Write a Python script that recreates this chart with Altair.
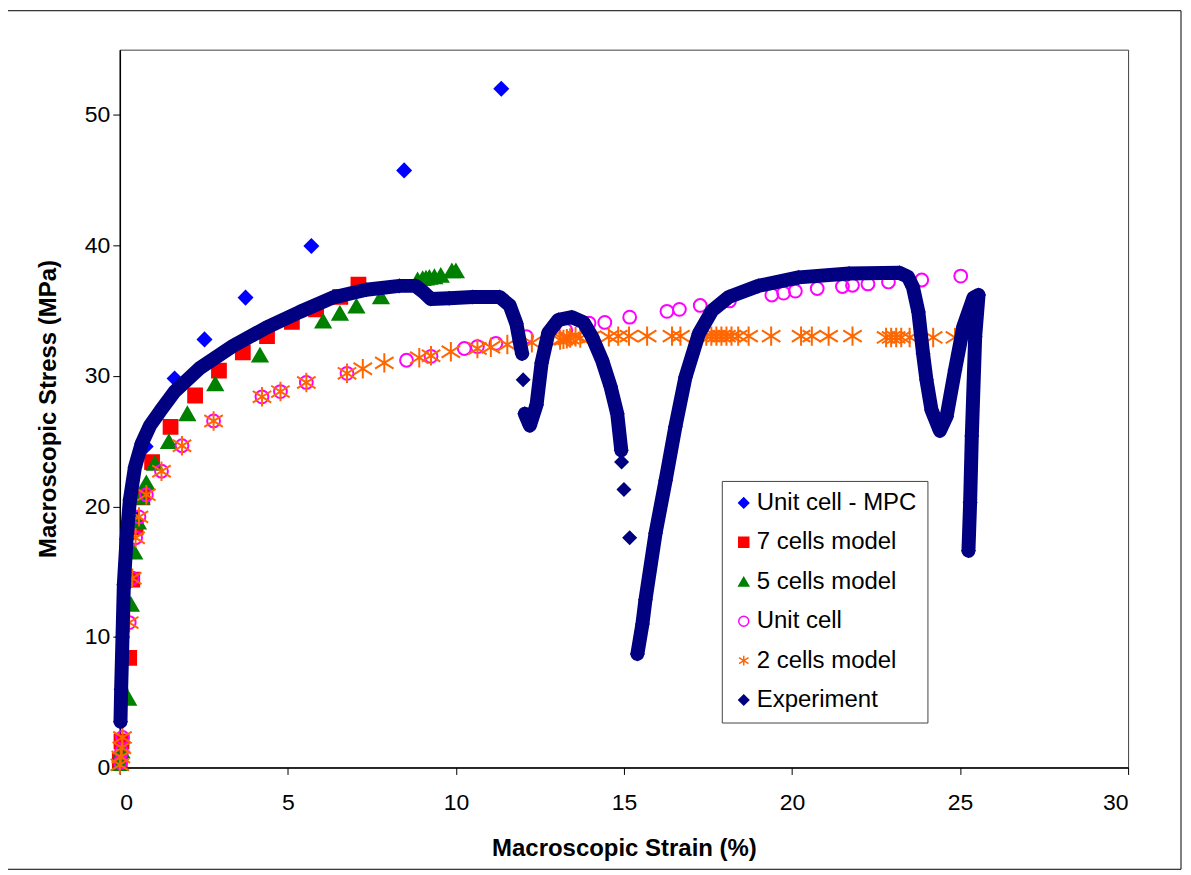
import altair as alt
import pandas as pd

SERIES = ["Unit cell - MPC", "7 cells model", "5 cells model", "Unit cell", "2 cells model", "Experiment"]
COLORS = ["#0000FF", "#FF0000", "#008000", "#FF00FF", "#FF6600", "#000080"]
FILLS = ["#0000FF", "#FF0000", "#008000", "transparent", "transparent", "#000080"]
ASTERISK = "M0,-1L0,1M-0.95,-0.6L0.95,0.6M-0.95,0.6L0.95,-0.6"
SHAPES = ["diamond", "square", "triangle-up", "circle", ASTERISK, "diamond"]
SIZES = [175, 190, 220, 165, 380, 150]

mpc_strain = [0.0, 0.1, 0.2, 0.35, 0.77, 1.63, 2.52, 3.74, 5.70, 8.46, 11.35]
mpc_stress = [0.5, 8.0, 14.0, 19.5, 24.6, 29.8, 32.8, 36.0, 39.95, 45.75, 52.0]

c7_strain = [0.0, 0.05, 0.28, 0.37, 0.47, 0.67, 0.96, 1.51, 2.24, 2.95, 3.66, 4.38, 5.12, 5.84, 6.56, 7.10]
c7_stress = [0.5, 2.0, 8.4, 14.4, 18.4, 20.7, 23.4, 26.1, 28.5, 30.4, 31.8, 33.05, 34.15, 35.1, 36.06, 37.0]

c5_strain = [0.0, 0.05, 0.25, 0.33, 0.43, 0.54, 0.64, 0.79, 1.04, 1.46, 2.01, 2.84, 4.17, 6.05, 6.55,
             7.04, 7.77, 8.86, 9.01, 9.11, 9.21, 9.36, 9.55, 9.88, 10.0]
c5_stress = [0.3, 1.25, 5.3, 12.5, 16.5, 18.8, 20.7, 21.8, 23.3, 24.96, 27.1, 29.4, 31.6, 34.2, 34.8,
             35.35, 36.06, 37.35, 37.45, 37.5, 37.55, 37.6, 37.7, 38.05, 38.05]

uc_strain = [0.02, 0.05, 0.08, 0.28, 0.37, 0.47, 0.57, 0.79, 1.24, 1.85, 2.79, 4.23, 4.78, 5.55, 6.76,
             8.53, 9.26, 10.25, 10.64, 11.19, 12.1, 13.27, 13.96, 14.43, 15.17, 16.28, 16.65, 17.27,
             18.14, 19.4, 19.75, 20.1, 20.75, 21.5, 21.8, 22.26, 22.87, 23.86, 25.02]
uc_stress = [0.4, 1.2, 2.3, 11.1, 14.5, 17.6, 19.2, 20.9, 22.7, 24.65, 26.55, 28.4, 28.8, 29.5, 30.2,
             31.2, 31.5, 32.1, 32.25, 32.5, 33.0, 33.5, 34.05, 34.1, 34.5, 34.95, 35.1, 35.4,
             35.75, 36.2, 36.35, 36.5, 36.7, 36.85, 36.95, 37.05, 37.2, 37.35, 37.65]

c2_strain = [0.0, 0.03, 0.06, 0.08, 0.28, 0.37, 0.47, 0.57, 0.79, 1.24, 1.85, 2.79, 4.23, 4.78, 5.55,
             6.76, 7.23, 7.87, 8.91, 9.26, 9.85, 10.64, 11.04, 11.53, 12.26, 13.1, 13.2, 13.3, 13.4,
             13.56, 13.7, 14.0, 14.55, 14.83, 15.15, 15.69, 16.43, 16.68, 17.45, 17.6, 17.75, 17.9,
             18.05, 18.2, 18.4, 18.71, 19.38, 20.27, 20.59, 21.09, 21.8, 22.8, 22.95, 23.1, 23.25,
             23.5, 24.2, 24.85]
c2_stress = [0.2, 0.8, 1.5, 2.3, 11.1, 14.5, 17.6, 19.2, 20.9, 22.7, 24.65, 26.55, 28.4, 28.8, 29.5,
             30.2, 30.55, 31.0, 31.4, 31.55, 31.85, 32.1, 32.2, 32.4, 32.55, 32.75, 32.8, 32.85, 32.9,
             33.0, 32.9, 32.95, 33.0, 33.05, 33.05, 33.05, 33.05, 33.05, 33.05, 33.05, 33.05, 33.05,
             33.05, 33.05, 33.05, 33.05, 33.05, 33.05, 33.05, 33.05, 33.05, 32.95, 32.95, 32.95, 32.95,
             32.95, 32.95, 32.95]

# Experiment: continuous traces (segment id) and isolated readings
exp_strain = [0.02, 0.04, 0.08, 0.12, 0.2, 0.3, 0.45, 0.65, 0.9, 1.2, 1.63, 2.38, 3.37, 4.36, 5.35,
              6.33, 7.33, 8.32, 8.8, 9.05, 9.25, 9.8, 10.5, 11.3, 11.6, 11.8, 11.9, 11.97,
              12.05, 12.2, 12.4, 12.55, 12.75, 13.05, 13.45, 13.8, 14.05, 14.35, 14.6, 14.8, 14.92,
              15.4, 15.55, 15.64, 15.94, 16.24, 16.53, 16.83, 17.23, 17.62, 18.12, 19.0, 20.2, 21.7,
              23.2, 23.45, 23.6, 23.76, 23.9, 24.0, 24.15, 24.4, 24.6, 24.85, 25.1, 25.4, 25.55,
              25.45, 25.35, 25.3, 25.25]
exp_stress = [3.5, 6.0, 10.0, 14.0, 17.5, 20.5, 23.0, 24.8, 26.2, 27.3, 28.8, 30.6, 32.3, 33.7, 34.9,
              36.0, 36.6, 36.9, 36.9, 36.4, 35.9, 35.95, 36.05, 36.05, 35.4, 34.0, 32.6, 31.7,
              27.1, 26.2, 27.8, 31.0, 33.3, 34.3, 34.5, 34.1, 33.0, 31.2, 29.2, 27.1, 24.3,
              8.7, 11.0, 12.85, 17.95, 22.0, 26.1, 29.9, 33.25, 35.0, 36.05, 36.9, 37.55, 37.85,
              37.9, 37.6, 36.8, 34.9, 31.7, 29.7, 27.4, 25.8, 26.9, 30.45, 33.8, 36.0, 36.2,
              33.0, 25.4, 20.3, 16.6]
exp_segment = [1] * 28 + [2] * 13 + [3] * 30
exp_iso_strain = [12.0, 14.93, 15.0, 15.17]
exp_iso_stress = [29.7, 23.4, 21.3, 17.6]

X_TICKS = [0, 5, 10, 15, 20, 25, 30]
Y_TICKS = [0, 10, 20, 30, 40, 50]

rows = []
for i, (xs, ys) in enumerate([(mpc_strain, mpc_stress), (c7_strain, c7_stress),
                              (c5_strain, c5_stress), (uc_strain, uc_stress),
                              (c2_strain, c2_stress),
                              (exp_strain + exp_iso_strain, exp_stress + exp_iso_stress)]):
    for a, b in zip(xs, ys):
        rows.append({"strain": a, "stress": b, "series": SERIES[i], "msize": SIZES[i]})
points = pd.DataFrame(rows)

exp_line = pd.DataFrame({"strain": exp_strain, "stress": exp_stress, "seg": exp_segment,
                         "idx": list(range(len(exp_strain)))})

xenc = alt.X("strain:Q", scale=alt.Scale(domain=[0, 30], nice=False),
             axis=alt.Axis(values=X_TICKS, title="Macroscopic Strain (%)", labelPadding=17,
                           titlePadding=22))
yenc = alt.Y("stress:Q", scale=alt.Scale(domain=[0, 55], nice=False),
             axis=alt.Axis(values=Y_TICKS, title="Macroscopic Stress (MPa)", labelPadding=3,
                           titlePadding=24))

legend = alt.Legend(title=None, orient="none", legendX=603, legendY=432)

border = alt.Chart(pd.DataFrame({"k": [0]})).mark_rect(
    fill="transparent", stroke="black", strokeWidth=1
).encode(x=alt.value(-113), x2=alt.value(1063), y=alt.value(-39), y2=alt.value(821))

point_layer = alt.Chart(points).mark_point(opacity=1, strokeWidth=2).encode(
    x=xenc, y=yenc,
    shape=alt.Shape("series:N", scale=alt.Scale(domain=SERIES, range=SHAPES), legend=legend),
    fill=alt.Fill("series:N", scale=alt.Scale(domain=SERIES, range=FILLS), legend=legend),
    stroke=alt.Stroke("series:N", scale=alt.Scale(domain=SERIES, range=COLORS), legend=legend),
    size=alt.Size("msize:Q", scale=None),
)

line_layer = alt.Chart(exp_line).mark_line(
    color="#000080", strokeWidth=14, strokeCap="round", strokeJoin="round"
).encode(x=xenc, y=yenc, detail="seg:N", order="idx:Q")

chart = alt.layer(border, point_layer, line_layer).properties(
    width=1010, height=719,
    autosize=alt.AutoSizeParams(type="none"),
    padding={"left": 112, "top": 41, "right": 55, "bottom": 103},
    background="white",
).configure_view(
    stroke="#404040", strokeWidth=1
).configure_axis(
    grid=False, domainColor="black", domainWidth=1.5, tickColor="black", tickSize=7,
    tickWidth=1, labelFontSize=23, labelFont="Liberation Sans", labelColor="black",
    titleFontSize=24, titleFont="Liberation Sans", titleFontWeight="bold", titleColor="black",
).configure_legend(
    labelFontSize=24, labelFont="Liberation Sans", labelColor="black", symbolSize=100,
    rowPadding=15.5, padding=10, labelOffset=1, fillColor="white", strokeColor="#444444",
    symbolStrokeWidth=1.5, labelLimit=400,
)

chart.save("out.html", embed_options={"renderer": "svg", "actions": False})
